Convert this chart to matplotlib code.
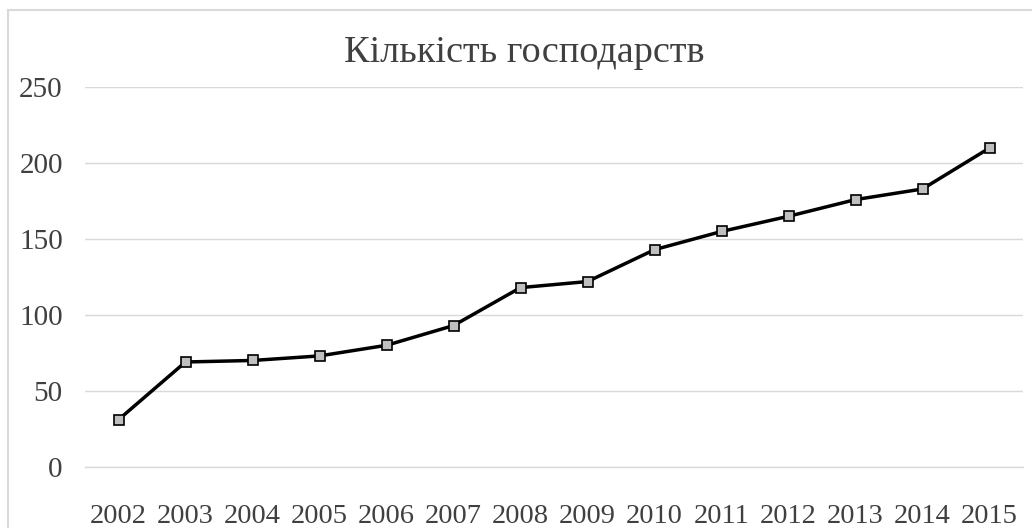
import matplotlib
matplotlib.use("Agg")
import matplotlib.pyplot as plt
from matplotlib.patches import Rectangle

# дані
years = ["2002", "2003", "2004", "2005", "2006", "2007", "2008",
         "2009", "2010", "2011", "2012", "2013", "2014", "2015"]
farms = [31, 69, 70, 73, 80, 93, 118, 122, 143, 155, 165, 176, 183, 210]
y_ticks = [0, 50, 100, 150, 200, 250]

plt.rcParams["font.family"] = ["Liberation Serif", "DejaVu Serif"]
text_color = "#404040"
grid_color = "#d9d9d9"

fig = plt.figure(figsize=(10.32, 5.28), dpi=100)
ax = fig.add_axes([85 / 1032, 1 - 466.7 / 528, 938 / 1032, (466.7 - 87.3) / 528])

# рамка навколо діаграми
fig.patches.append(Rectangle((7.5 / 1032, -0.05), 1.2, 1 - 9.5 / 528 + 0.05,
                             transform=fig.transFigure, fill=False,
                             edgecolor=grid_color, linewidth=1.5))

x = list(range(len(years)))
ax.plot(x, farms, color="black", linewidth=2.5, marker="s", markersize=7.6,
        markerfacecolor="#bfbfbf", markeredgecolor="black", markeredgewidth=1.2,
        zorder=3)

ax.set_xlim(-0.5, len(years) - 0.5)
ax.set_ylim(0, 250)
ax.set_xticks(x)
ax.set_xticklabels(years)
ax.set_yticks(y_ticks)
ax.tick_params(axis="both", length=0, colors=text_color)
ax.tick_params(axis="y", pad=16, labelsize=21)
ax.tick_params(axis="x", pad=27, labelsize=20.5)

ax.grid(axis="y", color=grid_color, linewidth=1.0)
ax.set_axisbelow(True)
for side in ["left", "right", "top"]:
    ax.spines[side].set_visible(False)
ax.spines["bottom"].set_color(grid_color)
ax.spines["bottom"].set_linewidth(1.0)

fig.text(0.5 + 8 / 1032, 1 - 53 / 528, "Кількість господарств", ha="center", va="center",
         fontsize=27.5, color=text_color)

plt.savefig("out.png", dpi=100)
